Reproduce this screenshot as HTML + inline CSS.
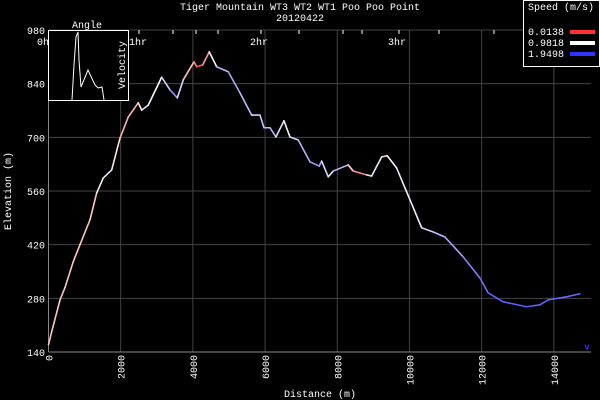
<!DOCTYPE html>
<html><head><meta charset="utf-8"><style>
body{margin:0;background:#000;}
svg{display:block;font-family:"Liberation Mono",monospace;}
</style></head><body>
<svg width="600" height="400" viewBox="0 0 600 400">
<rect width="600" height="400" fill="#000"/>
<g id="grid"></g>
<g id="axes"></g>
<g id="profile"></g>
<text x="300" y="10" fill="#fff" font-size="10" text-anchor="middle">Tiger Mountain WT3 WT2 WT1 Poo Poo Point</text>
<text x="300" y="21" fill="#fff" font-size="10" text-anchor="middle">20120422</text>
<text x="320" y="397" fill="#fff" font-size="10" text-anchor="middle">Distance (m)</text>
<text transform="translate(11,191) rotate(-90)" fill="#fff" font-size="10" text-anchor="middle">Elevation (m)</text>
<g>
<rect x="48.5" y="30.5" width="80" height="70" fill="#000" stroke="#fff" stroke-width="1"/>
<text x="87" y="28" fill="#fff" font-size="10" text-anchor="middle">Angle</text>
<text transform="translate(125,65) rotate(-90)" fill="#fff" font-size="10" text-anchor="middle">Velocity</text>
<polyline id="inset-line" fill="none" stroke="#fff" stroke-width="1"/>
</g>
<g>
<rect x="523.5" y="0.5" width="76" height="66" fill="#000" stroke="#fff"/>
<text x="528" y="10" fill="#fff" font-size="10">Speed (m/s)</text>
<g id="legend-entries"></g>
</g>
</svg>
<script>
const distances=[0,89,319,457,687,873,1150,1335,1518,1751,1981,2210,2487,2582,2764,3136,3366,3568,3734,4030,4105,4271,4454,4659,4980,5305,5629,5859,5970,6136,6302,6523,6690,6920,7244,7501,7568,7750,7889,8304,8443,8814,8953,9230,9385,9645,9922,10338,10659,10983,11490,11953,12183,12598,13246,13615,13845,14354,14723];
const elevations=[159,193,276,308,376,420,485,555,594,615,698,753,790,771,784,857,824,803,850,897,884,889,923,884,871,816,758,758,725,725,701,743,701,693,636,625,638,597,612,628,612,602,599,649,652,620,558,464,453,440,388,333,294,271,258,263,276,284,292];
const speeds=[0.7,0.7,0.7,0.7,0.7,0.7,0.7,0.7,1.1,1.1,0.6,0.6,0.6,1.1,1.1,0.9,1.5,1.5,0.8,0.55,0.15,0.15,0.8,1.2,1.4,1.4,1.2,1.2,1.3,1.3,1.3,0.95,1.1,1.3,1.4,1.5,1.3,1.0,1.2,1.4,0.1,0.7,1.5,0.7,0.9,1.1,1.0,1.1,1.3,1.3,1.5,1.65,1.7,1.75,1.75,1.75,1.7,1.7,1.7];
const strayPoint=[14917,154];
const yTicks=[140,280,420,560,700,840,980];
const xTicks=[0,2000,4000,6000,8000,10000,12000,14000];
const legendValues=["0.0138","0.9818","1.9498"];
const insetAngle=[[72,100],[74,65],[76,37],[78,32],[79,60],[81,87],[88,70],[95,85],[98,88],[102,87],[104,100]];
const NS='http://www.w3.org/2000/svg';
const X0=48.5,X1=591,XMAX=15030,Y0=352,Y1=30,EMIN=140,EMAX=980;
const sx=d=>X0+(d/XMAX)*(X1-X0);
const sy=e=>Y0-(e-EMIN)/(EMAX-EMIN)*(Y0-Y1);
function mk(tag,attrs,parent){const el=document.createElementNS(NS,tag);for(const k in attrs)el.setAttribute(k,attrs[k]);parent.appendChild(el);return el;}
function col(s){const t=Math.max(0,Math.min(1,s/1.95));let r,g,b;
 if(t<0.5){const u=t/0.5;r=255;g=Math.round(50+205*u);b=Math.round(50+205*u);}
 else{const u=(t-0.5)/0.5;r=Math.round(255-205*u);g=Math.round(255-205*u);b=255;}
 return `rgb(${r},${g},${b})`;}
const grid=document.getElementById('grid'),axes=document.getElementById('axes'),prof=document.getElementById('profile');
xTicks.forEach(v=>{const x=sx(v);
 const l=mk('line',{x1:x,x2:x,y1:Y1,y2:Y0,stroke:'#444'},grid);
 
 const t=mk('text',{transform:`translate(${x+4},${Y0+3}) rotate(-90)`,fill:'#fff','font-size':10,'text-anchor':'end'},axes);
 t.textContent=v;});
yTicks.forEach(v=>{const y=sy(v);
 const l=mk('line',{x1:X0,x2:X1,y1:y,y2:y,stroke:'#444'},grid);
 
 const t=mk('text',{x:45,y:y+4,fill:'#fff','font-size':10,'text-anchor':'end'},axes);
 t.textContent=v;});
mk('line',{x1:X0,x2:X0,y1:Y1,y2:Y0,stroke:'#888'},axes);
mk('line',{x1:X0,x2:X1,y1:Y0,y2:Y0,stroke:'#888'},axes);
[139,173,196,218,261,299,343,362,399,439,494].forEach(x=>{const l=mk('line',{x1:x,x2:x,y1:Y1,y2:Y1+4,stroke:'#fff'},axes);
 });
[["0hr",46],["1hr",138],["2hr",259],["3hr",397]].forEach(([s,x])=>{const t=mk('text',{x:x,y:45,fill:'#fff','font-size':10,'text-anchor':'middle'},axes);
 t.textContent=s;});
for(let i=0;i<distances.length-1;i++){
 const l=mk('line',{x1:sx(distances[i]),y1:sy(elevations[i]),x2:sx(distances[i+1]),y2:sy(elevations[i+1]),stroke:col((speeds[i]+speeds[i+1])/2),'stroke-width':1.6,'stroke-linecap':'round'},prof);
 }
const sp=mk('text',{x:sx(strayPoint[0]),y:sy(strayPoint[1])+3,fill:'#33f','font-size':9,'text-anchor':'middle','font-weight':'bold'},prof);
sp.textContent='v';
document.getElementById('inset-line').setAttribute('points',insetAngle.map(p=>p.join(',')).join(' '));
const le=document.getElementById('legend-entries');const lc=['#f33','#fff','#33f'];
legendValues.forEach((v,i)=>{const y=35+i*11;
 const t=mk('text',{x:528,y:y,fill:'#fff','font-size':10},le);t.textContent=v;
 
 const r=mk('rect',{x:570,y:y-5,width:25,height:4,fill:lc[i]},le);
 });
</script>
</body></html>
